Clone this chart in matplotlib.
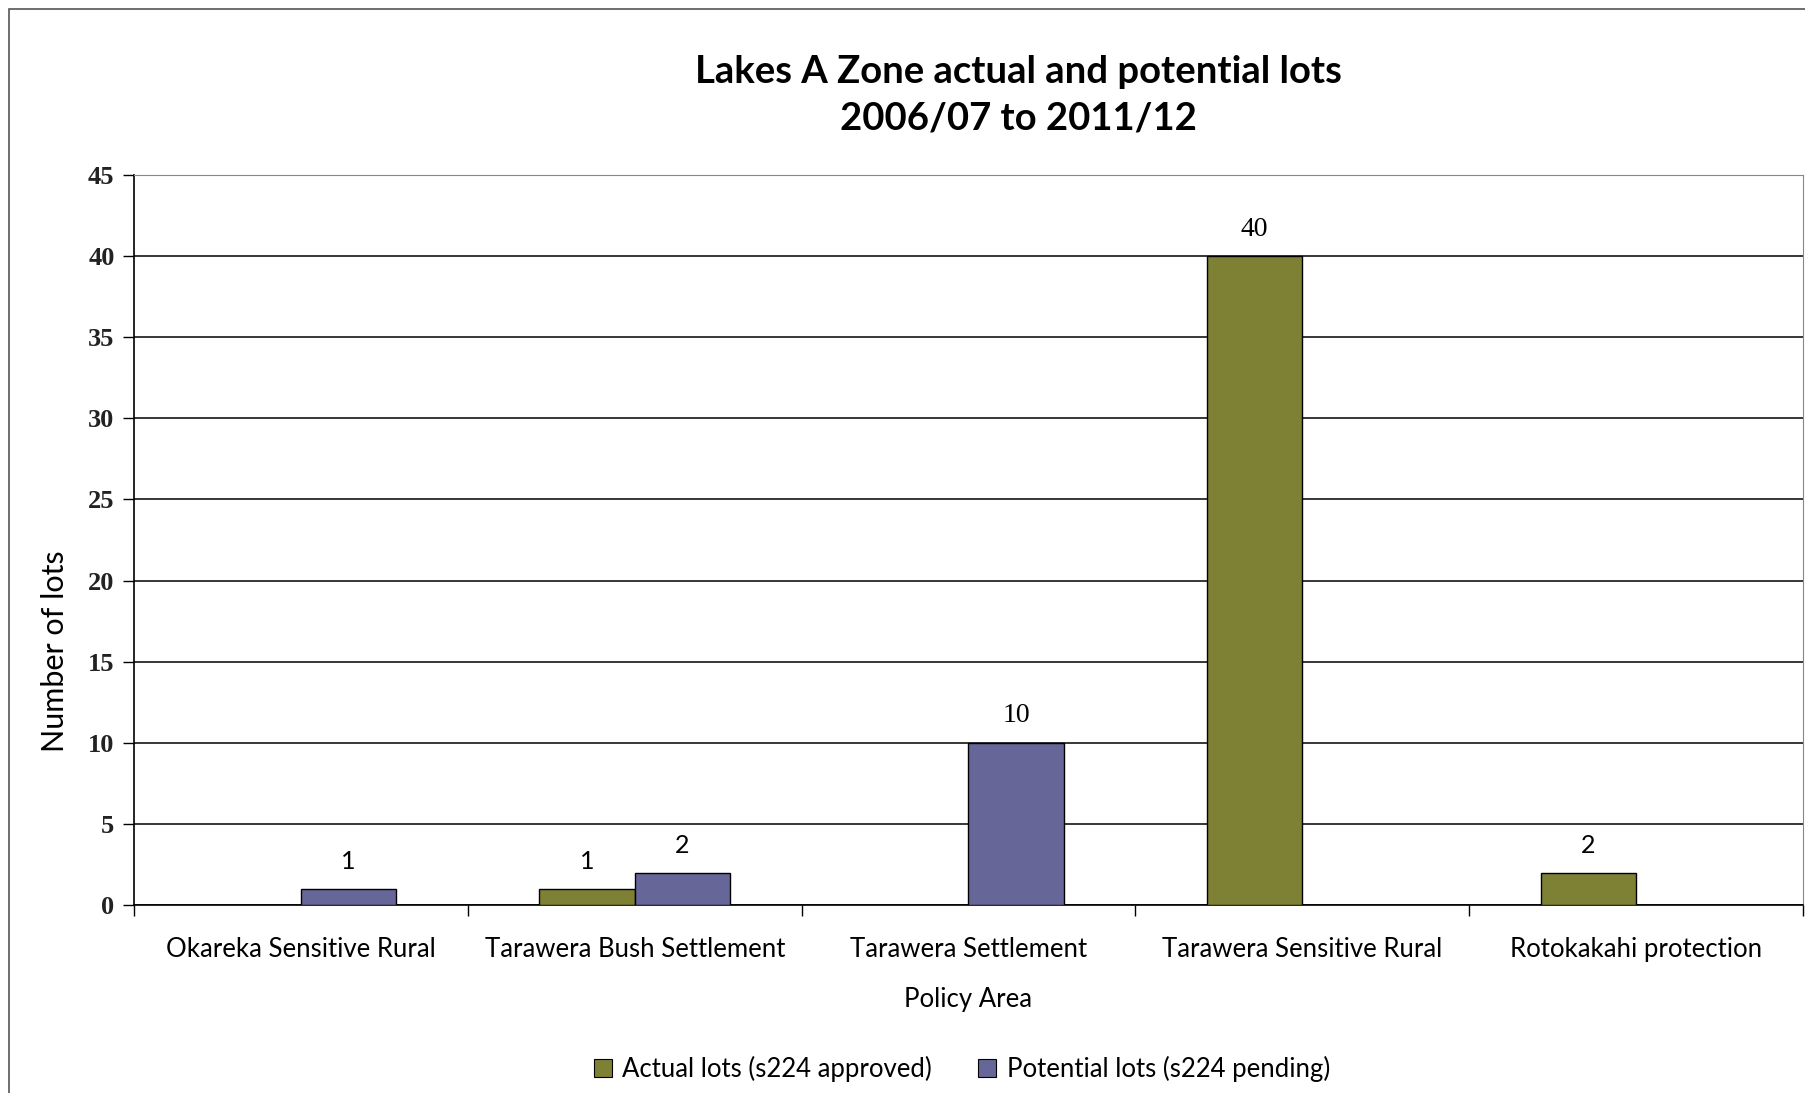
import numpy as np
import matplotlib
matplotlib.use("Agg")
import matplotlib.pyplot as plt
from matplotlib.patches import Rectangle, Patch

# -----------------------------------------------------
# DATA
# -----------------------------------------------------
categories = [
    "Okareka Sensitive Rural",
    "Tarawera Bush Settlement",
    "Tarawera Settlement",
    "Tarawera Sensitive Rural",
    "Rotokakahi protection",
]
actual_lots = [0, 1, 0, 40, 2]
potential_lots = [1, 2, 10, 0, 0]
series_names = ["Actual lots (s224 approved)", "Potential lots (s224 pending)"]
y_ticks = [0, 5, 10, 15, 20, 25, 30, 35, 40, 45]

OLIVE = "#7E8134"
PURPLE = "#666699"
SANS = "Lato"
SERIF = "Liberation Serif"

W, H = 1806, 1093
fig = plt.figure(figsize=(W / 100, H / 100), dpi=100)

# outer chart border
fig.patches.append(Rectangle((9 / W, -0.05), 1.1, 1 - 9 / H + 0.05,
                             transform=fig.transFigure, fill=False,
                             edgecolor="#555555", linewidth=1.2))

ax = fig.add_axes([134 / W, 1 - 905 / H, (1803 - 134) / W, (905 - 175) / H])

x = np.arange(len(categories))
bw = 1 / 3.5

for vals, off, color in [(actual_lots, -bw / 2, OLIVE), (potential_lots, bw / 2, PURPLE)]:
    for xi, v in zip(x, vals):
        if v == 0:
            continue
        ax.bar(xi + off, v, width=bw, color=color, edgecolor="black",
               linewidth=1.0, zorder=3)
        # the source renders two-digit labels in a serif face
        if v >= 10:
            fam, fs = SERIF, 20
        else:
            fam, fs = SANS, 18
        ax.annotate(str(v), (xi + off, v), xytext=(0, 19.5),
                    textcoords="offset points", ha="center", va="center",
                    fontsize=fs, family=fam, color="black")

ax.set_xlim(-0.5, len(categories) - 0.5)
ax.set_ylim(0, 45)
ax.set_yticks(y_ticks)
ax.set_yticklabels([str(t) for t in y_ticks], family=SERIF, fontsize=19,
                   fontweight="bold", color="#222222")
ax.yaxis.grid(True, color="black", linewidth=1.1, zorder=0)
ax.set_axisbelow(True)
ax.tick_params(axis="y", length=8, width=1, pad=6)

ax.set_xticks(x)
ax.set_xticklabels(categories, family=SANS, fontsize=18.5)
ax.set_xticks(np.arange(-0.5, len(categories)), minor=True)
ax.tick_params(axis="x", which="major", length=0, pad=23)
ax.tick_params(axis="x", which="minor", length=8, width=1)

for s in ["left", "bottom"]:
    ax.spines[s].set_color("black")
    ax.spines[s].set_linewidth(1.2)
ax.spines["top"].set_color("#888888")
ax.spines["right"].set_color("#888888")

fig.text(1018 / W, 1 - 72 / H, "Lakes A Zone actual and potential lots",
         ha="center", va="center", family=SANS, fontweight="bold", fontsize=27.5)
fig.text(1018 / W, 1 - 119 / H, "2006/07 to 2011/12",
         ha="center", va="center", family=SANS, fontweight="bold", fontsize=27.5)

fig.text(968 / W, 1 - 999 / H, "Policy Area", ha="center", va="center",
         family=SANS, fontsize=18.5)
fig.text(55 / W, 1 - 651 / H, "Number of lots", ha="center", va="center",
         rotation=90, family=SANS, fontsize=22)

handles = [Patch(facecolor=OLIVE, edgecolor="black", linewidth=0.8),
           Patch(facecolor=PURPLE, edgecolor="black", linewidth=0.8)]
fig.legend(handles, series_names, loc="center", bbox_to_anchor=(962 / W, 1 - 1069 / H),
           ncol=2, frameon=False, prop={"family": SANS, "size": 18.5},
           handlelength=0.7, handleheight=0.7, handletextpad=0.4, columnspacing=1.8)

fig.savefig("out.png", dpi=100)
